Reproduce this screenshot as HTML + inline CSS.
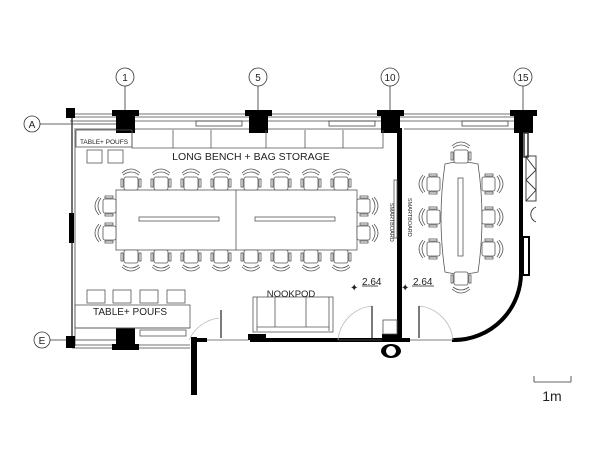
<!DOCTYPE html>
<html><head><meta charset="utf-8"><style>html,body{margin:0;padding:0;background:#fff}svg{display:block}text{font-family:"Liberation Sans",sans-serif;fill:#222}</style></head>
<body>
<svg width="600" height="460" viewBox="0 0 600 460" xmlns="http://www.w3.org/2000/svg">
<defs>
<g id="ch" fill="#fff" stroke="#555" stroke-width="0.8">
<path d="M-9,-7 Q0,-15 9,-7" fill="none"/><path d="M-8,-5 Q0,-11 8,-5" fill="none"/>
<rect x="-7" y="-3" width="14" height="13" rx="2"/>
<rect x="-10" y="-1" width="2" height="8"/><rect x="8" y="-1" width="2" height="8"/>
</g>
</defs>
<g stroke="#333" stroke-width="0.8" fill="#fff">
<circle cx="125" cy="77" r="9"/><circle cx="258" cy="77" r="9"/><circle cx="390" cy="77" r="9"/><circle cx="523" cy="77" r="9"/>
<line x1="125" y1="86" x2="125" y2="110"/><line x1="258" y1="86" x2="258" y2="110"/><line x1="390" y1="86" x2="390" y2="110"/><line x1="523" y1="86" x2="523" y2="110"/>
<circle cx="32" cy="124" r="8"/><line x1="40" y1="124" x2="118" y2="124"/>
<circle cx="42" cy="340" r="8"/><line x1="50" y1="340" x2="118" y2="340"/>
</g>
<g font-size="10" text-anchor="middle"><text x="125" y="81">1</text><text x="258" y="81">5</text><text x="390" y="81">10</text><text x="523" y="81">15</text><text x="32" y="128">A</text><text x="42" y="344">E</text></g>
<g stroke="#444" stroke-width="0.8" fill="none">
<line x1="70" y1="114" x2="530" y2="114"/><line x1="70" y1="117" x2="530" y2="117"/><line x1="70" y1="121" x2="530" y2="121"/>
<line x1="74" y1="129" x2="400" y2="129"/><line x1="404" y1="129" x2="520" y2="129"/>
<rect x="196" y="121" width="46" height="5"/><rect x="329" y="121" width="46" height="5"/><rect x="462" y="121" width="46" height="5"/>
<line x1="72" y1="112" x2="72" y2="346" stroke-width="1.5"/><line x1="75" y1="130" x2="75" y2="346"/>
<line x1="72" y1="348" x2="190" y2="348"/><line x1="75" y1="345" x2="190" y2="345"/>
</g>
<g fill="#000">
<rect x="66" y="108" width="9" height="10"/>
<rect x="112" y="110" width="27" height="6"/><rect x="116" y="116" width="19" height="17"/>
<rect x="245" y="110" width="27" height="6"/><rect x="249" y="116" width="19" height="17"/>
<rect x="377" y="110" width="27" height="6"/><rect x="381" y="116" width="19" height="17"/>
<rect x="510" y="110" width="27" height="6"/><rect x="514" y="116" width="19" height="17"/>
<rect x="397" y="128" width="5" height="212"/>
<rect x="519" y="128" width="4" height="143"/>
<rect x="69" y="213" width="5" height="30"/>
<rect x="66" y="336" width="9" height="12"/>
<rect x="112" y="344" width="27" height="6"/><rect x="116" y="328" width="19" height="18"/>
<rect x="191" y="337" width="6" height="58"/>
<rect x="197" y="338" width="10" height="4"/>
<rect x="250" y="338" width="140" height="4"/><rect x="248" y="334" width="18" height="6"/>
<rect x="382" y="334" width="20" height="8"/>
<rect x="402" y="338" width="8" height="4"/>
<rect x="452" y="338" width="6" height="4"/>
<ellipse cx="391" cy="351" rx="10" ry="7"/>
</g>
<ellipse cx="391" cy="351" rx="5" ry="5" fill="#fff"/>
<path d="M521,271 A67,67 0 0 1 454,340" fill="none" stroke="#000" stroke-width="4"/>
<g stroke="#333" stroke-width="0.9" fill="none">
<rect x="524" y="133" width="4" height="24" fill="#fff" stroke-width="1.5"/>
<line x1="528" y1="133" x2="528" y2="150"/>
<rect x="526" y="156" width="10" height="45"/>
<path d="M526,157 L536,170 L526,180 L536,190 L526,201"/>
<path d="M536,207 A8,8 0 0 0 536,222"/>
<rect x="523" y="237" width="6" height="38" stroke="#000" stroke-width="2"/>
</g>
<g stroke="#555" stroke-width="0.8" fill="none">
<rect x="76" y="130" width="56" height="17"/>
<path d="M132,130 L132,148 L383,148 L383,130"/>
<line x1="173" y1="130" x2="173" y2="148"/><line x1="211" y1="130" x2="211" y2="148"/><line x1="266" y1="130" x2="266" y2="148"/><line x1="305" y1="130" x2="305" y2="148"/><line x1="343" y1="130" x2="343" y2="148"/>
<rect x="87" y="150" width="15" height="13"/><rect x="108" y="150" width="15" height="13"/>
<rect x="87" y="290" width="18" height="13"/><rect x="113" y="290" width="18" height="13"/><rect x="140" y="290" width="18" height="13"/><rect x="167" y="290" width="18" height="13"/>
<rect x="75" y="305" width="115" height="23"/>
<rect x="140" y="330" width="46" height="6"/>
<line x1="75" y1="328" x2="190" y2="328"/>
<rect x="116" y="190" width="241" height="60"/>
<line x1="236" y1="190" x2="236" y2="250"/>
<rect x="139" y="217" width="80" height="4"/><rect x="255" y="217" width="80" height="4"/>
<rect x="253" y="297" width="80" height="35"/>
<line x1="257" y1="297" x2="257" y2="331"/><line x1="275" y1="297" x2="275" y2="327"/><line x1="306" y1="297" x2="306" y2="327"/><line x1="329" y1="297" x2="329" y2="331"/>
<line x1="257" y1="327" x2="329" y2="327"/>
<rect x="394" y="180" width="3" height="58"/>
<path d="M445,164 Q461,160 478,164 Q486,218 478,272 Q461,276 445,272 Q437,218 445,164 Z"/>
<rect x="458" y="178" width="5" height="78"/>
<path d="M219,318 A38,38 0 0 0 189,340" stroke="#bbb"/>
<line x1="221" y1="310" x2="221" y2="338" stroke="#222" stroke-width="1.2"/>
<line x1="207" y1="340" x2="249" y2="340"/>
<path d="M372,306 A38,38 0 0 0 338,340" stroke="#bbb"/>
<line x1="372" y1="306" x2="372" y2="338" stroke="#222" stroke-width="1.2"/>
<path d="M419,306 A38,38 0 0 1 453,340" stroke="#bbb"/>
<line x1="419" y1="306" x2="419" y2="338" stroke="#222" stroke-width="1.2"/>
<line x1="338" y1="340" x2="382" y2="340"/><line x1="410" y1="340" x2="452" y2="340"/>
<rect x="383" y="320" width="14" height="14"/>
<line x1="534" y1="382" x2="534" y2="376" stroke="#333"/><line x1="534" y1="382" x2="571" y2="382" stroke="#333"/><line x1="571" y1="382" x2="571" y2="376" stroke="#333"/>
<line x1="362" y1="286" x2="378" y2="286" stroke="#222"/><line x1="412" y1="286" x2="434" y2="286" stroke="#222"/>
</g>
<g>
<use href="#ch" x="131" y="180"/><use href="#ch" x="161" y="180"/><use href="#ch" x="191" y="180"/><use href="#ch" x="221" y="180"/><use href="#ch" x="251" y="180"/><use href="#ch" x="281" y="180"/><use href="#ch" x="311" y="180"/><use href="#ch" x="341" y="180"/>
<g transform="translate(0,440) scale(1,-1)"><use href="#ch" x="131" y="180"/><use href="#ch" x="161" y="180"/><use href="#ch" x="191" y="180"/><use href="#ch" x="221" y="180"/><use href="#ch" x="251" y="180"/><use href="#ch" x="281" y="180"/><use href="#ch" x="311" y="180"/><use href="#ch" x="341" y="180"/></g>
<use href="#ch" transform="translate(106,206) rotate(-90)"/><use href="#ch" transform="translate(106,233) rotate(-90)"/>
<use href="#ch" transform="translate(367,206) rotate(90)"/><use href="#ch" transform="translate(367,233) rotate(90)"/>
<use href="#ch" x="461" y="153"/><use href="#ch" transform="translate(461,282) scale(1,-1)"/>
<use href="#ch" transform="translate(430,184) rotate(-90)"/><use href="#ch" transform="translate(430,217) rotate(-90)"/><use href="#ch" transform="translate(430,249) rotate(-90)"/>
<use href="#ch" transform="translate(492,184) rotate(90)"/><use href="#ch" transform="translate(492,217) rotate(90)"/><use href="#ch" transform="translate(492,249) rotate(90)"/>
</g>
<text x="104" y="144" font-size="6.5" text-anchor="middle">TABLE+ POUFS</text>
<text x="251" y="160" font-size="10.5" text-anchor="middle">LONG BENCH + BAG STORAGE</text>
<text x="130" y="315" font-size="10" text-anchor="middle">TABLE+ POUFS</text>
<text x="291" y="297" font-size="9.5" text-anchor="middle">NOOKPOD</text>
<text x="362" y="285" font-size="10">2.64</text><text x="413" y="285" font-size="10">2.64</text>
<text x="350" y="291" font-size="10">✦</text><text x="401" y="291" font-size="10">✦</text>
<text transform="translate(390,203) rotate(90)" font-size="5.5">SMARTBOARD</text>
<text transform="translate(408,198) rotate(90)" font-size="5.5">SMARTBOARD</text>
<text x="552" y="401" font-size="14" text-anchor="middle">1m</text>
</svg>
</body></html>
